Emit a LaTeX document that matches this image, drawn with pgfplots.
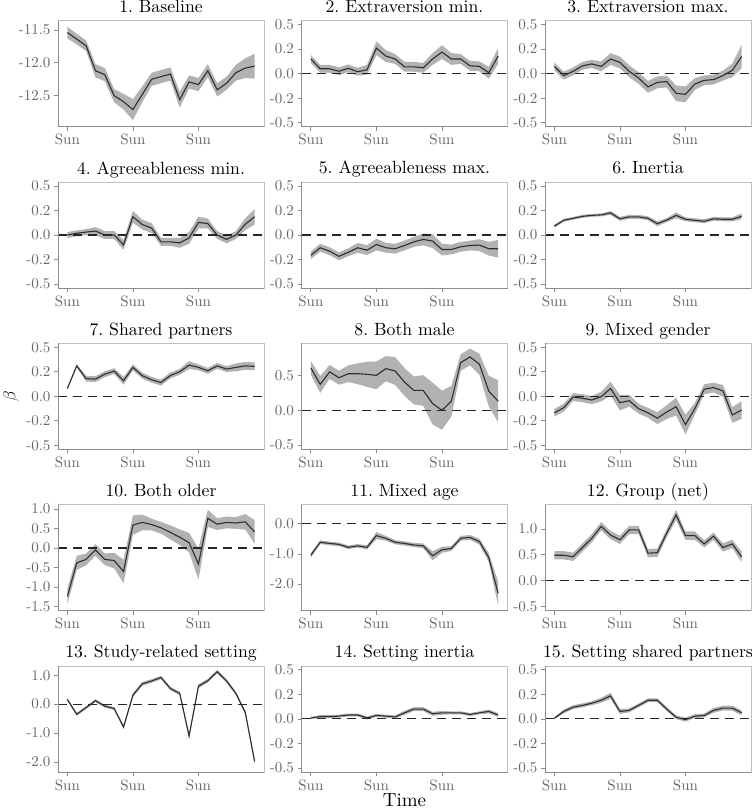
\documentclass[border=0pt]{standalone}
\usepackage{fontspec}
\setmainfont{lmroman10-regular}[Extension=.otf]
\usepackage{pgfplots}
\pgfplotsset{compat=1.18}
\usepackage{pgfplotstable}
\usepgfplotslibrary{groupplots,fillbetween}

% columns: time step, estimate, half width of the band
\pgfplotstableread{
x y e
0 -11.54 0.09
1 -11.64 0.08
2 -11.74 0.08
3 -12.12 0.10
4 -12.18 0.10
5 -12.50 0.10
6 -12.59 0.12
7 -12.71 0.16
8 -12.48 0.12
9 -12.25 0.10
10 -12.21 0.10
11 -12.17 0.10
12 -12.56 0.12
13 -12.29 0.10
14 -12.33 0.10
15 -12.12 0.10
16 -12.41 0.10
17 -12.31 0.10
18 -12.15 0.12
19 -12.08 0.15
20 -12.05 0.19
}\tabA
\pgfplotstableread{
x y e
0 0.15 0.04
1 0.05 0.04
2 0.05 0.04
3 0.025 0.04
4 0.055 0.04
5 0.02 0.04
6 0.04 0.05
7 0.26 0.07
8 0.18 0.06
9 0.15 0.05
10 0.07 0.05
11 0.07 0.05
12 0.06 0.05
13 0.15 0.06
14 0.22 0.07
15 0.15 0.06
16 0.15 0.05
17 0.08 0.05
18 0.075 0.05
19 0.01 0.06
20 0.18 0.08
}\tabB
\pgfplotstableread{
x y e
0 0.074 0.04
1 -0.02 0.04
2 0.024 0.04
3 0.08 0.04
4 0.10 0.04
5 0.074 0.05
6 0.15 0.06
7 0.115 0.06
8 0.024 0.06
9 -0.044 0.06
10 -0.135 0.06
11 -0.088 0.06
12 -0.08 0.06
13 -0.20 0.08
14 -0.21 0.08
15 -0.105 0.06
16 -0.068 0.05
17 -0.06 0.05
18 -0.02 0.05
19 0.034 0.07
20 0.175 0.12
}\tabC
\pgfplotstableread{
x y e
0 0.0 0.03
1 0.017 0.03
2 0.03 0.03
3 0.04 0.04
4 0.0 0.04
5 0.0 0.04
6 -0.10 0.05
7 0.186 0.06
8 0.107 0.05
9 0.07 0.05
10 -0.07 0.04
11 -0.07 0.04
12 -0.08 0.05
13 -0.03 0.06
14 0.128 0.06
15 0.117 0.05
16 0.0 0.04
17 -0.045 0.04
18 0.0 0.04
19 0.11 0.06
20 0.186 0.08
}\tabD
\pgfplotstableread{
x y e
0 -0.207 0.04
1 -0.13 0.04
2 -0.165 0.04
3 -0.217 0.04
4 -0.176 0.04
5 -0.13 0.05
6 -0.155 0.05
7 -0.097 0.06
8 -0.13 0.05
9 -0.14 0.05
10 -0.107 0.05
11 -0.07 0.05
12 -0.045 0.06
13 -0.062 0.07
14 -0.148 0.06
15 -0.148 0.05
16 -0.12 0.05
17 -0.107 0.05
18 -0.103 0.06
19 -0.14 0.07
20 -0.14 0.09
}\tabE
\pgfplotstableread{
x y e
0 0.09 0.015
1 0.15 0.015
2 0.17 0.015
3 0.19 0.015
4 0.20 0.015
5 0.205 0.015
6 0.225 0.02
7 0.165 0.02
8 0.185 0.02
9 0.185 0.02
10 0.17 0.02
11 0.115 0.025
12 0.152 0.02
13 0.20 0.03
14 0.16 0.02
15 0.15 0.02
16 0.14 0.02
17 0.165 0.02
18 0.16 0.02
19 0.16 0.02
20 0.19 0.03
}\tabF
\pgfplotstableread{
x y e
0 0.08 0.01
1 0.31 0.015
2 0.18 0.03
3 0.175 0.03
4 0.226 0.03
5 0.257 0.03
6 0.158 0.04
7 0.295 0.03
8 0.21 0.03
9 0.168 0.03
10 0.14 0.03
11 0.212 0.03
12 0.25 0.03
13 0.318 0.04
14 0.295 0.03
15 0.26 0.03
16 0.31 0.03
17 0.277 0.03
18 0.295 0.04
19 0.31 0.04
20 0.305 0.04
}\tabG
\pgfplotstableread{
x y e
0 0.606 0.10
1 0.37 0.12
2 0.55 0.10
3 0.466 0.10
4 0.524 0.12
5 0.524 0.15
6 0.515 0.18
7 0.50 0.20
8 0.596 0.18
9 0.563 0.20
10 0.404 0.20
11 0.284 0.20
12 0.284 0.22
13 0.096 0.30
14 0.0 0.28
15 0.13 0.22
16 0.683 0.12
17 0.764 0.12
18 0.66 0.15
19 0.274 0.22
20 0.13 0.30
}\tabH
\pgfplotstableread{
x y e
0 -0.168 0.04
1 -0.116 0.04
2 -0.007 0.04
3 -0.02 0.04
4 -0.038 0.04
5 -0.003 0.05
6 0.079 0.07
7 -0.065 0.08
8 -0.045 0.06
9 -0.127 0.05
10 -0.168 0.05
11 -0.223 0.06
12 -0.16 0.07
13 -0.106 0.09
14 -0.288 0.10
15 -0.127 0.06
16 0.072 0.05
17 0.089 0.05
18 0.055 0.06
19 -0.19 0.08
20 -0.14 0.09
}\tabI
\pgfplotstableread{
x y e
0 -1.24 0.20
1 -0.38 0.18
2 -0.29 0.15
3 -0.05 0.15
4 -0.29 0.15
5 -0.32 0.20
6 -0.60 0.30
7 0.586 0.25
8 0.655 0.20
9 0.60 0.15
10 0.517 0.15
11 0.40 0.18
12 0.276 0.20
13 0.138 0.25
14 -0.41 0.40
15 0.76 0.22
16 0.61 0.15
17 0.655 0.15
18 0.64 0.15
19 0.67 0.20
20 0.41 0.30
}\tabJ
\pgfplotstableread{
x y e
0 -1.04 0.08
1 -0.61 0.06
2 -0.65 0.06
3 -0.68 0.06
4 -0.78 0.06
5 -0.73 0.06
6 -0.78 0.07
7 -0.39 0.12
8 -0.48 0.08
9 -0.61 0.07
10 -0.65 0.07
11 -0.70 0.07
12 -0.73 0.08
13 -1.06 0.15
14 -0.86 0.10
15 -0.82 0.08
16 -0.48 0.08
17 -0.45 0.08
18 -0.59 0.10
19 -1.12 0.15
20 -2.31 0.40
}\tabK
\pgfplotstableread{
x y e
0 0.49 0.08
1 0.49 0.08
2 0.46 0.08
3 0.64 0.08
4 0.82 0.08
5 1.05 0.08
6 0.88 0.08
7 0.79 0.08
8 0.98 0.08
9 0.98 0.08
10 0.53 0.08
11 0.54 0.08
12 0.92 0.08
13 1.27 0.10
14 0.87 0.08
15 0.87 0.08
16 0.71 0.07
17 0.86 0.07
18 0.64 0.08
19 0.71 0.08
20 0.46 0.10
}\tabL
\pgfplotstableread{
x y e
0 0.16 0.05
1 -0.35 0.05
2 -0.12 0.05
3 0.12 0.05
4 -0.07 0.05
5 -0.15 0.05
6 -0.79 0.07
7 0.31 0.07
8 0.70 0.07
9 0.80 0.06
10 0.92 0.06
11 0.54 0.06
12 0.37 0.06
13 -1.10 0.09
14 0.62 0.07
15 0.81 0.06
16 1.12 0.06
17 0.80 0.06
18 0.37 0.06
19 -0.29 0.07
20 -1.98 0.10
}\tabM
\pgfplotstableread{
x y e
0 0.01 0.01
1 0.024 0.015
2 0.024 0.015
3 0.028 0.015
4 0.04 0.015
5 0.04 0.015
6 0.01 0.015
7 0.035 0.015
8 0.028 0.015
9 0.02 0.015
10 0.062 0.02
11 0.10 0.02
12 0.10 0.02
13 0.052 0.02
14 0.062 0.02
15 0.062 0.015
16 0.062 0.015
17 0.045 0.015
18 0.062 0.015
19 0.076 0.02
20 0.04 0.02
}\tabN
\pgfplotstableread{
x y e
0 0.007 0.01
1 0.076 0.02
2 0.12 0.02
3 0.138 0.02
4 0.16 0.02
5 0.19 0.025
6 0.235 0.03
7 0.076 0.025
8 0.087 0.02
9 0.138 0.02
10 0.19 0.02
11 0.19 0.02
12 0.10 0.02
13 0.017 0.02
14 -0.007 0.02
15 0.028 0.02
16 0.035 0.02
17 0.087 0.025
18 0.11 0.025
19 0.11 0.025
20 0.062 0.025
}\tabO

\newcommand{\band}[2]{%
  \addplot[name path=#2hi, draw=none] table[x=x, y expr=\thisrow{y}+\thisrow{e}] {#1};
  \addplot[name path=#2lo, draw=none] table[x=x, y expr=\thisrow{y}-\thisrow{e}] {#1};
  \addplot[fill=gray!60, draw=none] fill between[of=#2hi and #2lo];
}
\newcommand{\est}[1]{%
  \addplot[black!82, line width=1.1pt] table[x=x, y=y] {#1};
}
\newcommand{\zero}{%
  \addplot[black!85, line width=1.1pt, dash pattern=on 9pt off 6pt] coordinates {(-1,0) (21,0)};
}

\begin{document}
\begin{tikzpicture}
\begin{groupplot}[
  group style={group size=3 by 5, horizontal sep=37.5pt, vertical sep=55.3pt},
  scale only axis, width=206pt, height=106pt,
  xmin=-1, xmax=21,
  xtick={0,7,14}, xticklabels={Sun,Sun,Sun},
  xtick pos=bottom, ytick pos=left,
  tick align=outside, major tick length=4pt,
  tick style={black!45, line width=0.8pt},
  axis line style={black!25, line width=0.8pt},
  ticklabel style={font=\fontsize{15}{15}\selectfont, text=black!60},
  every axis title shift=0pt,
  title style={font=\fontsize{17.7}{18}\selectfont, anchor=base, at={(0.5,1)}, yshift=8pt, inner sep=0pt},
  ymin=-0.54, ymax=0.54,
  ytick={-0.5,-0.25,0,0.25,0.5}, yticklabels={-0.5,-0.2,0.0,0.2,0.5},
  after end axis/.code={\draw[black!45, line width=0.8pt] (rel axis cs:0,1) -- (rel axis cs:0,0) -- (rel axis cs:1,0);},
]
\nextgroupplot[title={1.\ Baseline}, ymin=-12.97, ymax=-11.36,
  ytick={-12.5,-12,-11.5}, yticklabels={-12.5,-12.0,-11.5}]
\band{\tabA}{a}\est{\tabA}
\nextgroupplot[title={2.\ Extraversion min.}]
\band{\tabB}{b}\zero\est{\tabB}
\nextgroupplot[title={3.\ Extraversion max.}]
\band{\tabC}{c}\zero\est{\tabC}

\nextgroupplot[title={4.\ Agreeableness min.}]
\band{\tabD}{d}\zero\est{\tabD}
\nextgroupplot[title={5.\ Agreeableness max.}]
\band{\tabE}{e}\zero\est{\tabE}
\nextgroupplot[title={6.\ Inertia}]
\band{\tabF}{f}\zero\est{\tabF}

\nextgroupplot[title={7.\ Shared partners}]
\band{\tabG}{g}\zero\est{\tabG}
\nextgroupplot[title={8.\ Both male}, ymin=-0.56, ymax=0.96,
  ytick={-0.5,0,0.5}, yticklabels={-0.5,0.0,0.5}]
\band{\tabH}{h}\zero\est{\tabH}
\nextgroupplot[title={9.\ Mixed gender}]
\band{\tabI}{i}\zero\est{\tabI}

\nextgroupplot[title={10.\ Both older}, ymin=-1.6, ymax=1.11,
  ytick={-1.5,-1,-0.5,0,0.5,1}, yticklabels={-1.5,-1.0,-0.5,0.0,0.5,1.0}]
\band{\tabJ}{j}\zero\est{\tabJ}
\nextgroupplot[title={11.\ Mixed age}, ymin=-2.88, ymax=0.64,
  ytick={-2,-1,0}, yticklabels={-2.0,-1.0,0.0}]
\band{\tabK}{k}\zero\est{\tabK}
\nextgroupplot[title={12.\ Group (net)}, ymin=-0.58, ymax=1.47,
  ytick={-0.5,0,0.5,1}, yticklabels={-0.5,0.0,0.5,1.0}]
\band{\tabL}{l}\zero\est{\tabL}

\nextgroupplot[title={13.\ Study-related setting}, ymin=-2.34, ymax=1.32,
  ytick={-2,-1,0,1}, yticklabels={-2.0,-1.0,0.0,1.0}]
\band{\tabM}{m}\zero\est{\tabM}
\nextgroupplot[title={14.\ Setting inertia}]
\band{\tabN}{n}\zero\est{\tabN}
\nextgroupplot[title={15.\ Setting shared partners}]
\band{\tabO}{o}\zero\est{\tabO}
\end{groupplot}
\node[rotate=90, font=\fontsize{19}{19}\selectfont] at ([xshift=-47pt]group c1r3.west) {$\beta$};
\node[font=\fontsize{19}{19}\selectfont] at ([yshift=-28pt]group c2r5.south) {Time};
\pgfresetboundingbox
\path ([xshift=-58pt, yshift=20.7pt]group c1r1.north west) rectangle ([yshift=-37.1pt]group c3r5.south east);
\end{tikzpicture}
\end{document}
